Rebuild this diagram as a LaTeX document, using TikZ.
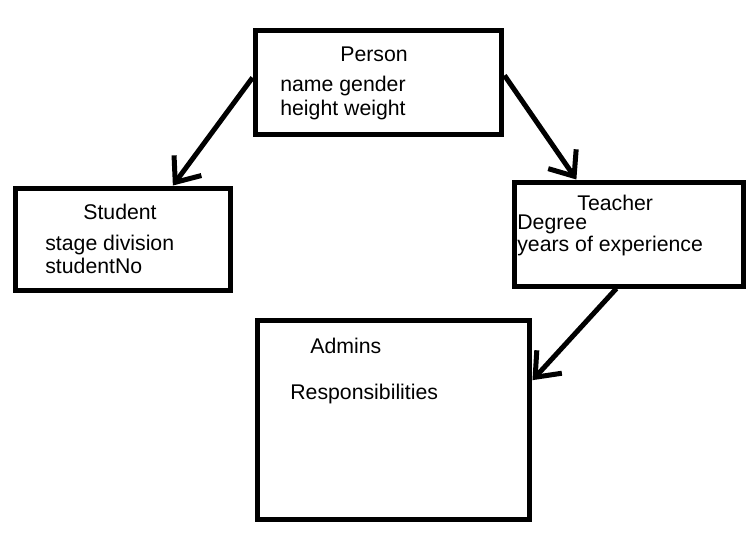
\documentclass[tikz,border=0pt]{standalone}
\usepackage{fontspec}
\setmainfont{Liberation Sans}
\usetikzlibrary{arrows.meta}
\begin{document}
\begin{tikzpicture}[
    x=0.02cm, y=-0.02cm,
    box/.style={rectangle, draw, line width=0.1cm, inner sep=0pt},
    title/.style={anchor=base west, inner sep=0pt, font=\fontsize{12.1}{14}\selectfont},
    attr/.style={anchor=base west, inner sep=0pt, font=\fontsize{12.1}{14}\selectfont},
    arrow/.style={draw, line width=0.1cm, -{Straight Barb[length=0.42cm, width=0.68cm]}}
]
\useasboundingbox (0,0) rectangle (753,539);
% classes
\node[box, minimum width=4.94cm, minimum height=2.08cm] (person) at (378.5,82) {};
\node[box, minimum width=4.32cm, minimum height=2.04cm] (student) at (123,239) {};
\node[box, minimum width=4.6cm, minimum height=2.08cm] (teacher) at (629,234) {};
\node[box, minimum width=5.46cm, minimum height=4.0cm] (admins) at (393.5,420) {};
% texts
\node[title] (personName) at (340,61.7) {Person};
\node[attr] (personAttrA) at (280,91.7) {name gender};
\node[attr] (personAttrB) at (280,115) {height weight};
\node[title] (studentName) at (83,219.3) {Student};
\node[attr] (studentAttrA) at (45,250) {stage division};
\node[attr] (studentAttrB) at (45,273.3) {studentNo};
\node[title] (teacherName) at (577,210) {Teacher};
\node[attr] (teacherAttrA) at (517,229.3) {Degree};
\node[attr] (teacherAttrB) at (517,251.7) {years of experience};
\node[title] (adminsName) at (310,353.3) {Admins};
\node[attr] (adminsAttr) at (290,399.3) {Responsibilities};
% inheritance
\draw[arrow] (person.178) -- (student.47);
\draw[arrow] (person.3) -- (teacher.134);
\draw[arrow] (teacher.-103) -- (admins.16);
\end{tikzpicture}
\end{document}
